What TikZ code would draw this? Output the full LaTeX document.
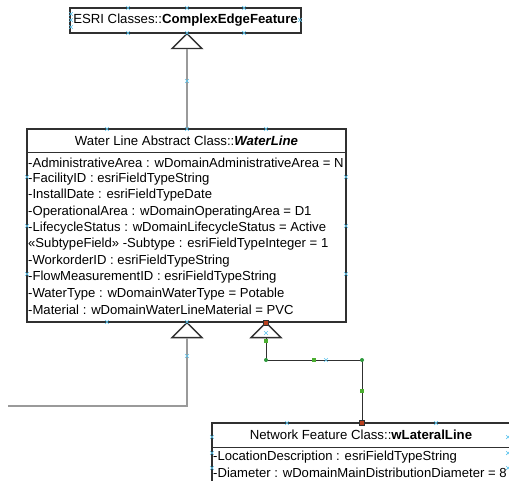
\documentclass[tikz,border=0pt]{standalone}
\usepackage{fontspec}
\setmainfont{Liberation Sans}
\usetikzlibrary{calc}
\definecolor{boxline}{HTML}{303030}
\definecolor{linkgray}{HTML}{9A9A9A}
\definecolor{handleblue}{HTML}{5CC4EE}
\definecolor{pointgreen}{HTML}{2E9A3C}
\definecolor{endred}{HTML}{B8401E}
\tikzset{
  classbox/.style={draw=boxline, line width=1.2pt, fill=white, inner sep=0pt},
  classtitle/.style={inner sep=0pt, font=\fontsize{13.2}{15}\selectfont},
  attr/.style={anchor=west, inner sep=0pt, font=\fontsize{13.1}{15}\selectfont},
  gen/.style={draw=boxline, line width=1.3pt, fill=white},
  link/.style={draw=linkgray, line width=1.4pt},
  seglink/.style={draw=boxline, line width=0.9pt}
}
\newcommand{\handlemark}[1]{\draw[handleblue, line width=0.7pt] #1 ++(-1.8,-1.8) -- ++(3.6,3.6) ++(-3.6,0) -- ++(3.6,-3.6);}
\begin{document}
\begin{tikzpicture}[x=1pt, y=-1pt]
  \useasboundingbox (0,0) rectangle (509,481);
  \clip (0,0) rectangle (509,481);
  \fill[white] (0,0) rectangle (509,481);

  % ESRI class
  \node[classbox, minimum width=231pt, minimum height=25pt] (edge) at (185.5,20.5) {};
  \node[classtitle] (edgetitle) at (edge.center) {ESRI Classes::\textbf{ComplexEdgeFeature}};

  % water line class
  \node[classbox, minimum width=319pt, minimum height=193pt] (waterline) at (186.5,225.5) {};
  \coordinate (wlsep) at (27,153);
  \draw[boxline, line width=1pt] (wlsep) -- (wlsep -| waterline.east);
  \node[classtitle] (wltitle) at (186.5,141) {Water Line Abstract Class::\textbf{\textit{WaterLine}}};
  \foreach \txt [count=\i from 0] in {
      -AdministrativeArea : wDomainAdministrativeArea = N,
      -FacilityID : esriFieldTypeString,
      -InstallDate : esriFieldTypeDate,
      -OperationalArea : wDomainOperatingArea = D1,
      -LifecycleStatus : wDomainLifecycleStatus = Active,
      «SubtypeField» -Subtype : esriFieldTypeInteger = 1,
      -WorkorderID : esriFieldTypeString,
      -FlowMeasurementID : esriFieldTypeString,
      -WaterType : wDomainWaterType = Potable,
      -Material : wDomainWaterLineMaterial = PVC}
    \node[attr] (wlattr\i) at (28,162.5+16.4*\i) {\txt};

  % lateral line class
  \node[classbox, minimum width=298pt, minimum height=110pt] (lateral) at (361,478) {};
  \coordinate (latsep) at (212,447);
  \draw[boxline, line width=1pt] (latsep) -- (latsep -| lateral.east);
  \node[classtitle] (lattitle) at (361,435) {Network Feature Class::\textbf{wLateralLine}};
  \node[attr] (latattr0) at (213,457) {-LocationDescription : esriFieldTypeString};
  \node[attr] (latattr1) at (213,473) {-Diameter : wDomainMainDistributionDiameter = 8};

  % generalisation arrows
  \coordinate (upper) at (edge.south -| 187,0);
  \coordinate (leftgen) at (waterline.south -| 187,0);
  \coordinate (rightgen) at (waterline.south -| 266,0);
  \foreach \a/\b in {upper/upperbase, leftgen/leftbase, rightgen/rightbase} {
    \draw[gen] (\a) -- ++(-15,15) -- ++(30,0) -- cycle;
    \coordinate (\b) at ($(\a)+(0,15)$);
  }

  % connectors
  \coordinate (leftend) at (8,406);
  \coordinate (bendA) at (266,360);
  \coordinate (bendB) at (362,360);
  \draw[link] (upperbase) -- (waterline.north -| upperbase);
  \draw[link] (leftbase) |- (leftend);
  \draw[seglink] (rightbase) -- (bendA) -- (bendB) -- (lateral.north -| bendB);

  % selection handles
  \foreach \p in {(128,8),(187,8),(244,8),(128,33),(187,33),(244,33),(71,14),(71,20),(71,27),(300,20),
                  (107,129),(187,129),(266,129),(107,322),(187,322),
                  (27,177),(27,226),(27,274),(346,177),(346,226),(346,274),
                  (187,81),(187,356),(266,333),(326,360),
                  (287,423),(436,423),(212,437),(212,453),(212,468),(508,437),(508,453),(508,468)}
    \handlemark{\p}
  \foreach \p in {(266,341),(314,360),(362,391)}
    \fill[pointgreen!80!lime] \p ++(-2,-2) rectangle ++(4,4);
  \foreach \p in {(bendA),(bendB)}
    \fill[pointgreen] \p circle (2pt);
  \foreach \p in {(rightgen),(lateral.north -| bendB)}
    \filldraw[fill=endred, draw=boxline, line width=0.5pt] \p ++(-2.5,-2.5) rectangle ++(5,5);
\end{tikzpicture}
\end{document}
